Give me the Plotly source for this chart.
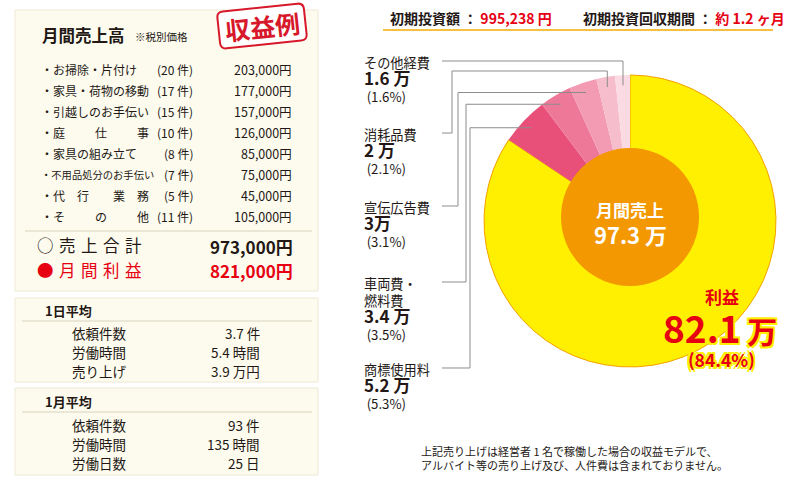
import math
import plotly.graph_objects as go

# ---------------- data ----------------
item_labels = ["・お掃除・片付け", "・家具・荷物の移動", "・引越しのお手伝い",
               "・庭\u3000\u3000\u2002仕\u3000\u3000\u2002事", "・家具の組み立て",
               "・不用品処分のお手伝い", "・代\u3000行\u3000\u3000業\u3000務",
               "・そ\u3000\u3000\u2002の\u3000\u3000\u2002他"]
item_counts = [20, 17, 15, 10, 8, 7, 5, 11]
item_sales = [203000, 177000, 157000, 126000, 85000, 75000, 45000, 105000]
total_sales = 973000
monthly_profit = 821000

daily_labels = ["依頼件数", "労働時間", "売り上げ"]
daily_values = ["3.7 件", "5.4 時間", "3.9 万円"]
monthly_labels = ["依頼件数", "労働時間", "労働日数"]
monthly_values = ["93 件", "135 時間", "25 日"]

slice_labels = ["利益", "商標使用料", "車両費・<br>燃料費", "宣伝広告費", "消耗品費", "その他経費"]
slice_values = [82.1, 5.2, 3.4, 3.0, 2.0, 1.6]   # 万円
slice_value_text = ["82.1 万", "5.2 万", "3.4 万", "3万", "2 万", "1.6 万"]
slice_pct = [84.4, 5.3, 3.5, 3.1, 2.1, 1.6]
initial_investment = 995238
payback_months = 1.2

# ---------------- style ----------------
W, H = 798, 495
FONT = "Noto Sans CJK JP"
DARK = "#231815"
RED = "#E60012"
slice_colors = ["#FFEF00", "#E8507A", "#EE7898", "#F29BB2", "#F6BDCC", "#FADAE3"]
CREAM = "#FDFBEE"


def X(px):
    return px / W


def Y(py):
    return 1 - py / H


fig = go.Figure()

# pie geometry (pixels)
CX, CY, R = 630, 221, 146
ICX, ICY, IR = 630, 217, 69

fig.add_trace(go.Pie(
    values=slice_values, labels=[l.replace("<br>", "") for l in slice_labels],
    sort=False, direction="clockwise", rotation=0,
    marker=dict(colors=slice_colors,
                line=dict(color=["#F3A100"] + ["rgba(0,0,0,0)"] * 5,
                          width=[1, 0, 0, 0, 0, 0])),
    textinfo="none", showlegend=False, hoverinfo="label+value+percent",
    domain=dict(x=[X(CX - R), X(CX + R)], y=[Y(CY + R), Y(CY - R)]),
))
fig.add_trace(go.Pie(
    values=[sum(slice_values)], labels=["月間売上"], sort=False,
    marker=dict(colors=["#F39800"], line=dict(width=0)),
    textinfo="none", showlegend=False, hoverinfo="label+value",
    domain=dict(x=[X(ICX - IR), X(ICX + IR)], y=[Y(ICY + IR), Y(ICY - IR)]),
))

shapes = []
annotations = []


def ann(x, y, text, size, color=DARK, anchor="left", bold=False, **kw):
    font = dict(size=size, color=color, family=FONT)
    if bold:
        font["weight"] = "bold"
    if "shadow" in kw:
        font["shadow"] = kw.pop("shadow")
    annotations.append(dict(x=X(x), y=Y(y), xref="paper", yref="paper", text=text,
                            showarrow=False, xanchor=anchor, yanchor="middle",
                            borderpad=0, font=font, **kw))


def rect(x0, y0, x1, y1, fill=CREAM, line="#EEE9D6"):
    shapes.append(dict(type="rect", xref="paper", yref="paper", x0=X(x0), x1=X(x1),
                       y0=Y(y1), y1=Y(y0), fillcolor=fill,
                       line=dict(color=line, width=1), layer="below"))


def hline(x0, x1, y, color="#D8D3C0", width=1):
    shapes.append(dict(type="line", xref="paper", yref="paper", x0=X(x0), x1=X(x1),
                       y0=Y(y), y1=Y(y), line=dict(color=color, width=width)))


# ---------------- left panels ----------------
rect(15, 10, 318, 291)
rect(15, 298, 318, 382)
rect(15, 388, 318, 475)

ann(41, 35, "月間売上高", 16.5, bold=True)
ann(134, 36, "※税別価格", 10.5)

# stamp
sa = math.radians(-6)
scx, scy, sw, sh, sr = 262, 26, 87, 37, 6


def tr(px, py):
    x = scx + px * math.cos(sa) - py * math.sin(sa)
    y = scy + px * math.sin(sa) + py * math.cos(sa)
    return f"{X(x):.5f},{Y(y):.5f}"


hw, hh = sw / 2, sh / 2
path = (f"M{tr(-hw + sr, -hh)} L{tr(hw - sr, -hh)} Q{tr(hw, -hh)} {tr(hw, -hh + sr)} "
        f"L{tr(hw, hh - sr)} Q{tr(hw, hh)} {tr(hw - sr, hh)} L{tr(-hw + sr, hh)} "
        f"Q{tr(-hw, hh)} {tr(-hw, hh - sr)} L{tr(-hw, -hh + sr)} Q{tr(-hw, -hh)} {tr(-hw + sr, -hh)} Z")
shapes.append(dict(type="path", xref="paper", yref="paper", path=path,
                   fillcolor="#FFFFFF", line=dict(color="#D7182A", width=2)))
ann(scx, scy, "収益例", 25, color="#D7182A", anchor="center", bold=True, textangle=-6)

row_y0, row_dy = 69, 21.1
for i, (lab, cnt, val) in enumerate(zip(item_labels, item_counts, item_sales)):
    y = row_y0 + i * row_dy
    ann(40, y, lab, 10.3 if len(lab) > 10 else 12)
    ann(194, y, f"({cnt} 件)", 12, anchor="right")
    ann(293, y, f"{val:,}円", 12.5, anchor="right")

hline(25, 312, 231)
ann(36, 245, "○\u2004売\u2004上\u2004合\u2004計", 16.5)
ann(294, 246, f"{total_sales:,}円", 17, anchor="right", bold=True)
ann(36, 270, "●\u2004月\u2004間\u2004利\u2004益", 16.5, color=RED)
ann(294, 270, f"{monthly_profit:,}円", 17, color=RED, anchor="right", bold=True)

ann(44, 310, "1日平均", 13, bold=True)
hline(22, 312, 321)
for i, (lab, val) in enumerate(zip(daily_labels, daily_values)):
    y = 333 + i * 19
    ann(71, y, lab, 13.5)
    ann(261, y, val, 13.5, anchor="right")

ann(44, 401, "1月平均", 13, bold=True)
hline(22, 312, 412)
for i, (lab, val) in enumerate(zip(monthly_labels, monthly_values)):
    y = 425 + i * 19
    ann(71, y, lab, 13.5)
    ann(261, y, val, 13.5, anchor="right")

# ---------------- header ----------------
ann(389, 18, f"初期投資額 ：<span style='color:{RED}'> {initial_investment:,} 円</span>", 14, bold=True)
ann(582, 18, f"初期投資回収期間 ：<span style='color:{RED}'> 約 {payback_months} ヶ月</span>", 14, bold=True)
hline(383, 773, 30, color="#F6AB00", width=1.5)

# ---------------- pie labels & leader lines ----------------
total = sum(slice_values)
cum = [sum(slice_values[:i]) / total for i in range(len(slice_values) + 1)]
label_layout = {5: dict(ly=61, vx=None, hy=None), 4: dict(ly=133, vx=452, hy=71),
                3: dict(ly=206, vx=458, hy=None), 2: dict(ly=282, vx=466, hy=None),
                1: dict(ly=368, vx=470, hy=None)}
for i, cfg in label_layout.items():
    theta = 2 * math.pi * (cum[i] + cum[i + 1]) / 2
    ex = CX + 0.93 * R * math.sin(theta)
    ey = CY - 0.93 * R * math.cos(theta)
    ly, vx, hy = cfg["ly"], cfg["vx"], cfg["hy"]
    pts = [(442, ly)]
    if vx is None:
        pts += [(ex, ly), (ex, ey)]
    elif hy is not None:
        pts += [(vx, ly), (vx, hy), (ex, hy), (ex, ey)]
    else:
        pts += [(vx, ly), (vx, ey), (ex, ey)]
    p = "M" + " L".join(f"{X(a):.5f},{Y(b):.5f}" for a, b in pts)
    shapes.append(dict(type="path", xref="paper", yref="paper", path=p,
                       line=dict(color="#8C8C8C", width=1)))

    # one block per label: name / value / percentage
    nlines = slice_labels[i].count("<br>") + 1
    block = (f"{slice_labels[i]}<br><span style='font-size:17px;font-weight:bold'>"
             f"{slice_value_text[i]}</span><br>\u2009({slice_pct[i]}%)")
    step = 17.2
    ntot = nlines + 2
    mid = ly + step * (ntot - 1) / 2 + 1
    ann(363, mid, block, 13.2, align="left")

# center text
ann(ICX, 209, "月間売上", 17, color="#FFFFFF", anchor="center", bold=True)
ann(ICX, 234, f"{total:.1f} 万", 22, color="#FFFFFF", anchor="center", bold=True)

# profit label
glow = "2px 2px 0 #FFEF00, -2px -2px 0 #FFEF00, 2px -2px 0 #FFEF00, -2px 2px 0 #FFEF00"
ann(722, 296, slice_labels[0], 17, color=RED, anchor="center", bold=True, shadow=glow)
ann(720, 327, f"{slice_values[0]}<span style='font-size:30px'> 万</span>", 37, color=RED,
    anchor="center", bold=True, shadow=glow)
ann(721, 359, f"({slice_pct[0]}%)", 17.5, color=RED, anchor="center", bold=True, shadow=glow)

# footnote
ann(420, 451, "上記売り上げは経営者 1 名で稼働した場合の収益モデルで、", 11)
ann(420, 465, "アルバイト等の売り上げ及び、人件費は含まれておりません。", 11)

fig.update_layout(
    width=W, height=H, margin=dict(l=0, r=0, t=0, b=0),
    paper_bgcolor="#FFFFFF", plot_bgcolor="#FFFFFF",
    font=dict(family=FONT, color=DARK),
    shapes=shapes, annotations=annotations, showlegend=False,
)

fig.write_html("out.html", config={"displayModeBar": False},
               post_script="document.body.style.margin='0';")
